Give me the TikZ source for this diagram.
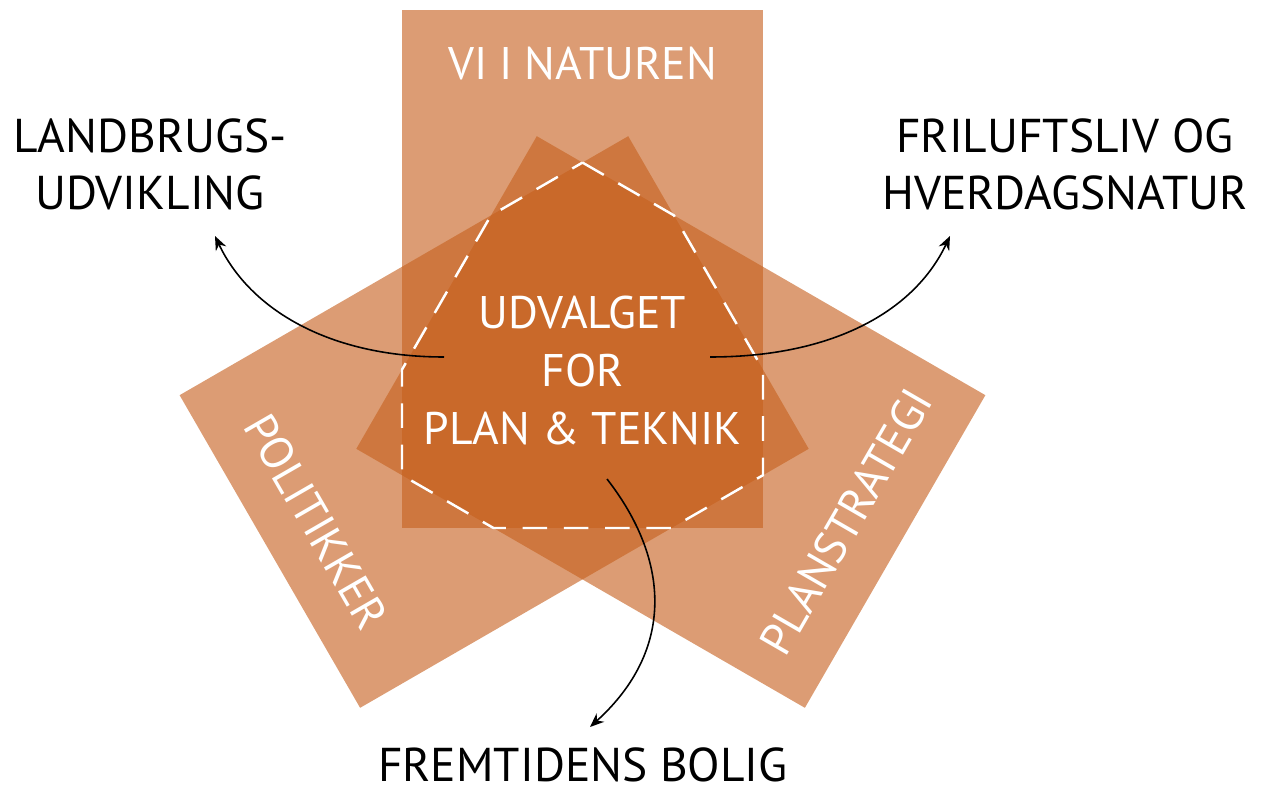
\documentclass[tikz,border=0pt]{standalone}
\usepackage{fontspec}
\setmainfont{PT Sans}
\usetikzlibrary{arrows.meta}
\definecolor{petal}{RGB}{198,96,30}
\tikzset{
  petalbox/.style={fill=petal,fill opacity=0.62},
  core/.style={draw=white,line width=1.4pt,dash pattern=on 14pt off 9.5pt},
  whitelabel/.style={text=white,font=\fontsize{26}{33}\selectfont,inner sep=0pt},
  blacklabel/.style={text=black,font=\fontsize{27}{32.3}\selectfont,inner sep=0pt,align=center},
  arr/.style={draw=black,line width=0.9pt,-{Stealth[length=8pt,width=6.5pt]}}
}
\begin{document}
\begin{tikzpicture}[x=0.02cm,y=-0.02cm]
\useasboundingbox (0,0) rectangle (1262,787);
% three translucent rectangles
\fill[petalbox] (402,10) rectangle (763,528);
\fill[petalbox,rotate around={120:(582.5,371)}] (402,10) rectangle (763,528);
\fill[petalbox,rotate around={-120:(582.5,371)}] (402,10) rectangle (763,528);
% dashed core outline
\draw[core] (582.5,162.6) -- (674,215.4) -- (763,369.6) -- (763,475.2) -- (671.5,528)
  -- (493.5,528) -- (402,475.2) -- (402,369.6) -- (491,215.4) -- cycle;
% labels in rectangles
\node[whitelabel] (nat) at (582.5,64) {VI I NATUREN};
\node[whitelabel,rotate=-60] (pol) at (316.5,522) {POLITIKKER};
\node[whitelabel,rotate=60] (pla) at (846,522) {PLANSTRATEGI};
\node[whitelabel,align=center,font=\fontsize{26}{33}\selectfont] (udv) at (582.5,370.5) {UDVALGET\\FOR\\PLAN \& TEKNIK};
% outer labels
\node[blacklabel] (land) at (150,164.5) {LANDBRUGS-\\UDVIKLING};
\node[blacklabel] (fril) at (1065,164.5) {FRILUFTSLIV OG\\HVERDAGSNATUR};
\node[blacklabel,anchor=base] (frem) at (583,781.5) {FREMTIDENS BOLIG};
% connector ends
\coordinate (sL) at (444,357);
\coordinate (sR) at (710,357);
\coordinate (sB) at (607,479);
\coordinate (eL) at (215,236);
\coordinate (eR) at (950,236);
\coordinate (eB) at (590,727);
\draw[arr] (sL) .. controls (330,357) and (250,310) .. (eL);
\draw[arr] (sR) .. controls (835,357) and (915,310) .. (eR);
\draw[arr] (sB) .. controls (670,560) and (675,650) .. (eB);
\end{tikzpicture}
\end{document}
